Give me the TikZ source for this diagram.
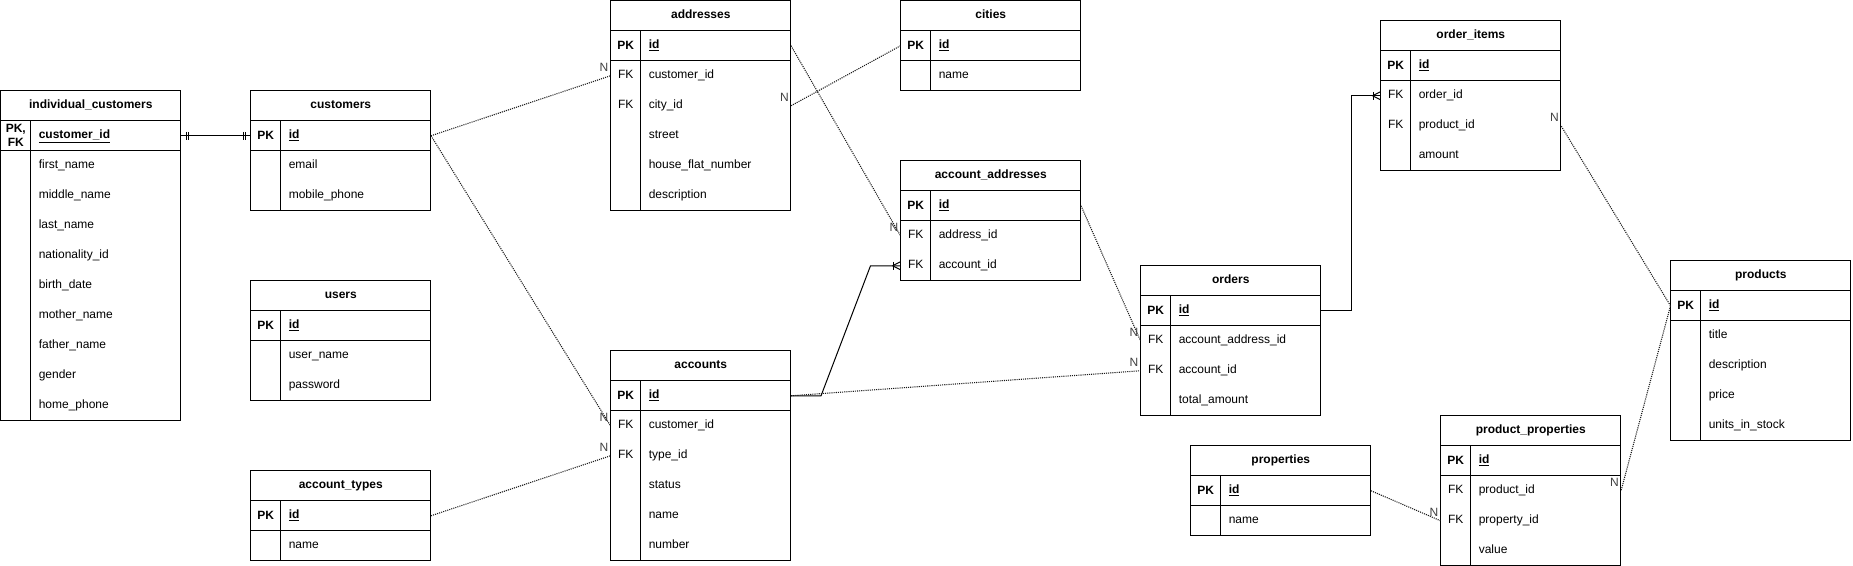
\documentclass[tikz,border=0pt]{standalone}
\usepackage{fontspec}
\setmainfont{Liberation Sans}
\usepackage{tikz}
\usetikzlibrary{arrows.meta, positioning, calc, decorations.markings}

\newcommand{\tblfont}{\fontsize{9}{10.5}\selectfont}

% one ER table: name, top left, title, pk key, pk field, rows, row count
\newcommand{\ertable}[7]{%
  \coordinate (#1) at (#2);
  \node[tbltitle] (#1-t) at (#1) {#3};
  \node[keycell, font=\tblfont\bfseries] (#1-k0) at ([shift={(0,30)}]#1) {#4};
  \node[fieldcell, font=\tblfont\bfseries] (#1-0) at ([shift={(30,30)}]#1) {\underline{#5}};
  \foreach \k/\f [count=\i] in {#6} {
    \node[keycell, text height=6.5pt, text depth=2pt] (#1-k\i) at ([shift={(0,30+30*\i)}]#1) {\k};
    \node[fieldcell] (#1-\i) at ([shift={(30,30+30*\i)}]#1) {\f};
  }
  \draw[tblline] (#1) rectangle ++(180,60+30*#7);
  \draw[tblline] ([shift={(0,30)}]#1) -- ++(180,0);
  \draw[tblline] ([shift={(0,60)}]#1) -- ++(180,0);
  \draw[tblline] ([shift={(30,30)}]#1) -- ++(0,30+30*#7);
}

\begin{document}
\begin{tikzpicture}[
            x=0.75pt, y=-0.75pt,
            tblline/.style={draw=black, line width=0.75pt},
            tbltitle/.style={anchor=north west, inner sep=0pt, minimum width=135pt, minimum height=22.5pt, text height=6.5pt, text depth=2pt, font=\tblfont\bfseries},
            keycell/.style={anchor=north west, inner sep=0pt, minimum width=22.5pt, minimum height=22.5pt, align=center, font=\tblfont},
            fieldcell/.style={anchor=north west, inner xsep=6pt, inner ysep=0pt, text width=100.5pt, minimum height=22.5pt, text height=6.5pt, text depth=2pt, align=left, font=\tblfont},
            link/.style={draw=black, line width=0.75pt},
            rel/.style={draw=black!90, line width=0.8pt, dash pattern=on 0.8pt off 0.8pt},
            nlbl/.style={anchor=south east, inner sep=0.5pt, xshift=-0.75pt, yshift=2pt, text=black!75, font=\tblfont},
            mandone/.style={postaction={decorate, decoration={markings,
                mark=at position 3.75pt with {\draw[solid] (0,-4) -- (0,4);},
                mark=at position 5.6pt with {\draw[solid] (0,-4) -- (0,4);},
                mark=at position -3.75pt with {\draw[solid] (0,-4) -- (0,4);},
                mark=at position -5.6pt with {\draw[solid] (0,-4) -- (0,4);}}}},
            onemany/.style={postaction={decorate, decoration={markings,
                mark=at position 1 with {\draw[solid] (-7,-4) -- (-7,4);
                  \draw[solid] (-8,0) -- (0,-4) (-8,0) -- (0,4);}}}}
        ]
        \useasboundingbox (-0.5,-0.5) rectangle (1852.5,565.5);

        % --- Customers ---
        \ertable{indiv}{0,90}{individual\_customers}{PK,\\FK}{customer\_id}
          {/first\_name, /middle\_name, /last\_name, /nationality\_id, /birth\_date, /mother\_name, /father\_name, /gender, /home\_phone}{9}
        \ertable{cust}{250,90}{customers}{PK}{id}{/email, /mobile\_phone}{2}
        \ertable{users}{250,280}{users}{PK}{id}{/user\_name, /password}{2}
        \ertable{acct}{250,470}{account\_types}{PK}{id}{/name}{1}

        % --- Accounts and addresses ---
        \ertable{addr}{610,0}{addresses}{PK}{id}
          {FK/customer\_id, FK/city\_id, /street, /house\_flat\_number, /description}{5}
        \ertable{acc}{610,350}{accounts}{PK}{id}
          {FK/customer\_id, FK/type\_id, /status, /name, /number}{5}
        \ertable{city}{900,0}{cities}{PK}{id}{/name}{1}
        \ertable{accaddr}{900,160}{account\_addresses}{PK}{id}{FK/address\_id, FK/account\_id}{2}

        % --- Orders and products ---
        \ertable{ord}{1140,265}{orders}{PK}{id}{FK/account\_address\_id, FK/account\_id, /total\_amount}{3}
        \ertable{item}{1380,20}{order\_items}{PK}{id}{FK/order\_id, FK/product\_id, /amount}{3}
        \ertable{propt}{1190,445}{properties}{PK}{id}{/name}{1}
        \ertable{pprop}{1440,415}{product\_properties}{PK}{id}{FK/product\_id, FK/property\_id, /value}{3}
        \ertable{prod}{1670,260}{products}{PK}{id}{/title, /description, /price, /units\_in\_stock}{4}

        % --- Relations ---
        \draw[link, mandone] (indiv-0.east) -- (cust-k0.west);
        \draw[rel] (cust-0.east) -- (addr-k1.west) node[nlbl] {N};
        \draw[rel] (cust-0.east) -- (acc-k1.west) node[nlbl] {N};
        \draw[rel] (acct-0.east) -- (acc-k2.west) node[nlbl] {N};
        \draw[rel] (addr-0.east) -- (accaddr-k1.west) node[nlbl] {N};
        \draw[rel] (city-k0.west) -- (addr-2.east) node[nlbl] {N};
        \draw[link, onemany] (acc-0.east) -- ++(30,0) -- ([xshift=-22.5pt]accaddr-k2.west) -- (accaddr-k2.west);
        \draw[rel] (acc-0.east) -- (ord-k2.west) node[nlbl] {N};
        \draw[rel] (accaddr-0.east) -- (ord-k1.west) node[nlbl] {N};
        \draw[link, onemany] (ord-0.east) -- ++(30,0) |- (item-k1.west);
        \draw[rel] (prod-k0.west) -- (item-2.east) node[nlbl] {N};
        \draw[rel] (prod-k0.west) -- (pprop-1.east) node[nlbl] {N};
        \draw[rel] (propt-0.east) -- (pprop-k2.west) node[nlbl] {N};

    \end{tikzpicture}
\end{document}
